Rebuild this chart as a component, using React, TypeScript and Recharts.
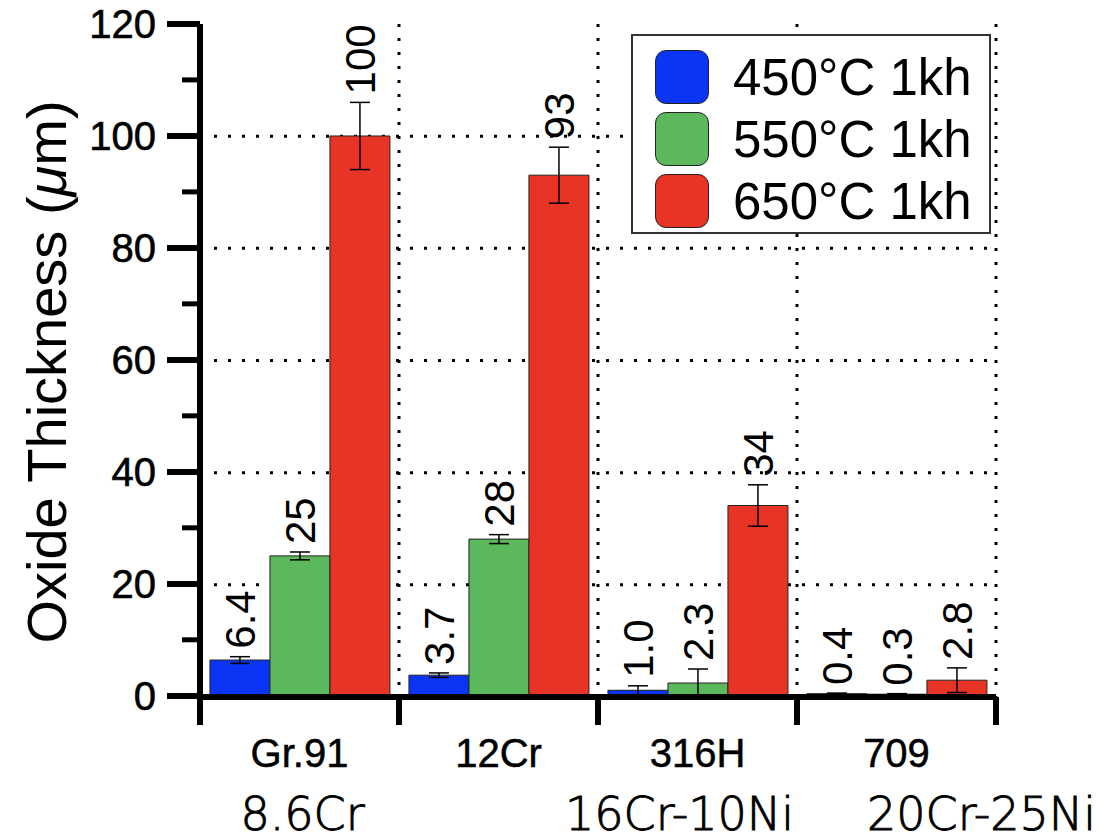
import React from 'react';
import {
  BarChart, Bar, XAxis, YAxis, CartesianGrid, ErrorBar, LabelList, Legend,
} from 'recharts';

// Oxide thickness after 1 kh exposure, per alloy and temperature
const MATERIALS = ['Gr.91', '12Cr', '316H', '709'];
const COMPOSITIONS = ['8.6Cr', '', '16Cr-10Ni', '20Cr-25Ni'];
const T450 = [6.4, 3.7, 1.0, 0.4];
const T550 = [25, 28, 2.3, 0.3];
const T650 = [100, 93, 34, 2.8];
const E450 = [0.6, 0.4, 0.8, 0.1];
const E550 = [0.7, 0.8, 2.5, 0.1];
const E650 = [6, 5, 3.7, 2.2];
const SERIES = ['450°C 1kh', '550°C 1kh', '650°C 1kh'];
const Y_TICKS = [0, 20, 40, 60, 80, 100, 120];

const COLORS = ['#0b35f5', '#5cb85c', '#e83424'];

const data = MATERIALS.map((m, i) => ({
  name: m,
  comp: COMPOSITIONS[i],
  t450: T450[i], t550: T550[i], t650: T650[i],
  e450: E450[i], e550: E550[i], e650: E650[i],
}));

const W = 1112;
const H = 840;
const M_TOP = 24;
const M_RIGHT = 116;
const Y_W = 200;
const X_H = 143;
const PLOT_W = W - Y_W - M_RIGHT;
const PLOT_H = H - M_TOP - X_H;
const AXIS_Y = H - X_H;
const BAND = PLOT_W / MATERIALS.length;
const HALF_STEP = PLOT_H / (Y_TICKS.length - 1) / 2;

const SANS = '"Liberation Sans", Arial, Helvetica, sans-serif';
// per-category nudge for the composition line
const SUB_SHIFT = [3, 0, -18, 85];

const YTick = (props: any) => {
  const { y, payload } = props;
  return (
    <g>
      <line x1={167} x2={Y_W} y1={y} y2={y} stroke="#000" strokeWidth={6} />
      {payload.value < 120 && (
        <line x1={182} x2={Y_W} y1={y - HALF_STEP} y2={y - HALF_STEP} stroke="#000" strokeWidth={5} />
      )}
      <text x={156} y={y} dy={14} textAnchor="end" fontFamily={SANS} fontSize={40}
        fill="#000" stroke="#000" strokeWidth={0.6}>
        {payload.value}
      </text>
    </g>
  );
};

const XTick = (props: any) => {
  const { x, payload, index } = props;
  const left = x - BAND / 2;
  return (
    <g>
      <line x1={left} x2={left} y1={AXIS_Y} y2={AXIS_Y + 28} stroke="#000" strokeWidth={6} />
      {index === MATERIALS.length - 1 && (
        <line x1={left + BAND} x2={left + BAND} y1={AXIS_Y} y2={AXIS_Y + 28} stroke="#000" strokeWidth={6} />
      )}
      <text x={x} y={767} textAnchor="middle" fontFamily={SANS} fontSize={40}
        fill="#000" stroke="#000" strokeWidth={0.5}>
        {payload.value}
      </text>
      <text x={x + SUB_SHIFT[index]} y={830} textAnchor="middle" fontFamily='"DejaVu Sans", sans-serif'
        fontWeight={200} fontSize={46} fill="#000" stroke="#000" strokeWidth={0.9}>
        {COMPOSITIONS[index]}
      </text>
    </g>
  );
};

const fmt = (v: number) => (v < 10 ? v.toFixed(1) : v.toFixed(0));

const makeLabel = (errs: number[]) => (props: any) => {
  const { x, y, width, height, value, index } = props;
  const k = value > 0 ? height / value : PLOT_H / 120;
  const top = y - errs[index] * k;
  const cx = x + width / 2;
  const ty = top - 8;
  return (
    <text x={cx} y={ty} transform={`rotate(-90 ${cx} ${ty})`} dy="0.36em"
      textAnchor="start" fontFamily={SANS} fontSize={42} fill="#000">
      {fmt(value)}
    </text>
  );
};

const LegendBox = () => (
  <div style={{
    width: 356, height: 196, border: '2px solid #333', background: '#fff',
    boxSizing: 'content-box', fontFamily: SANS,
  }}>
    {SERIES.map((s, i) => (
      <div key={s} style={{ display: 'flex', alignItems: 'center', height: 62, marginTop: i === 0 ? 10 : 0 }}>
        <div style={{
          width: 52, height: 52, marginLeft: 22, borderRadius: 11,
          background: COLORS[i], border: '1.5px solid #222',
        }} />
        <span style={{ marginLeft: 24, fontSize: 51, color: '#000', lineHeight: 1 }}>{s}</span>
      </div>
    ))}
  </div>
);

const App: React.FC = () => {
  return (
    <div style={{ position: 'absolute', left: 0, top: 0, width: W, height: H, background: '#fff' }}>
      <BarChart width={W} height={H} data={data}
        margin={{ top: M_TOP, right: M_RIGHT, bottom: 0, left: 0 }}
        barCategoryGap="5%" barGap={0}>
        <CartesianGrid stroke="#000" strokeWidth={3} strokeDasharray="3 11"
          horizontalCoordinatesGenerator={({ offset }: any) =>
            Y_TICKS.slice(1, -1).map((t) => offset.top + offset.height - (t / 120) * offset.height)}
          verticalCoordinatesGenerator={({ offset }: any) =>
            MATERIALS.map((_, i) => offset.left + i * (offset.width / MATERIALS.length)).concat(offset.left + offset.width)} />
        <XAxis dataKey="name" height={X_H} interval={0} tickLine={false}
          axisLine={{ stroke: '#000', strokeWidth: 6 }} tick={<XTick />} />
        <XAxis xAxisId="top" orientation="top" dataKey="name" height={0} tick={false} tickLine={false}
          axisLine={{ stroke: '#000', strokeWidth: 6 }} />
        <YAxis width={Y_W} domain={[0, 120]} ticks={Y_TICKS} interval={0} tickLine={false}
          axisLine={{ stroke: '#000', strokeWidth: 6 }} tick={<YTick />}
          label={{
            content: () => (
              <text x={46} y={372} transform="rotate(-90 46 372)" textAnchor="middle" dy="0.36em"
                fontFamily={SANS} fontSize={56} fill="#000">
                Oxide Thickness (<tspan fontStyle="italic">μ</tspan>m)
              </text>
            ),
          }} />
        <YAxis yAxisId="right" orientation="right" width={0} tick={false} tickLine={false}
          axisLine={{ stroke: '#000', strokeWidth: 6 }} />
        <Legend content={<LegendBox />} layout="vertical" align="center" verticalAlign="middle"
          wrapperStyle={{ position: 'absolute', left: 631, top: 34, width: 360, height: 200 }} />
        <Bar dataKey="t450" name={SERIES[0]} fill={COLORS[0]} stroke="#222" strokeWidth={1} isAnimationActive={false}>
          <ErrorBar dataKey="e450" width={10} stroke="#000" strokeWidth={1.5} />
          <LabelList dataKey="t450" content={makeLabel(E450)} />
        </Bar>
        <Bar dataKey="t550" name={SERIES[1]} fill={COLORS[1]} stroke="#222" strokeWidth={1} isAnimationActive={false}>
          <ErrorBar dataKey="e550" width={10} stroke="#000" strokeWidth={1.5} />
          <LabelList dataKey="t550" content={makeLabel(E550)} />
        </Bar>
        <Bar dataKey="t650" name={SERIES[2]} fill={COLORS[2]} stroke="#222" strokeWidth={1} isAnimationActive={false}>
          <ErrorBar dataKey="e650" width={10} stroke="#000" strokeWidth={1.5} />
          <LabelList dataKey="t650" content={makeLabel(E650)} />
        </Bar>
      </BarChart>
    </div>
  );
};

export default App;
